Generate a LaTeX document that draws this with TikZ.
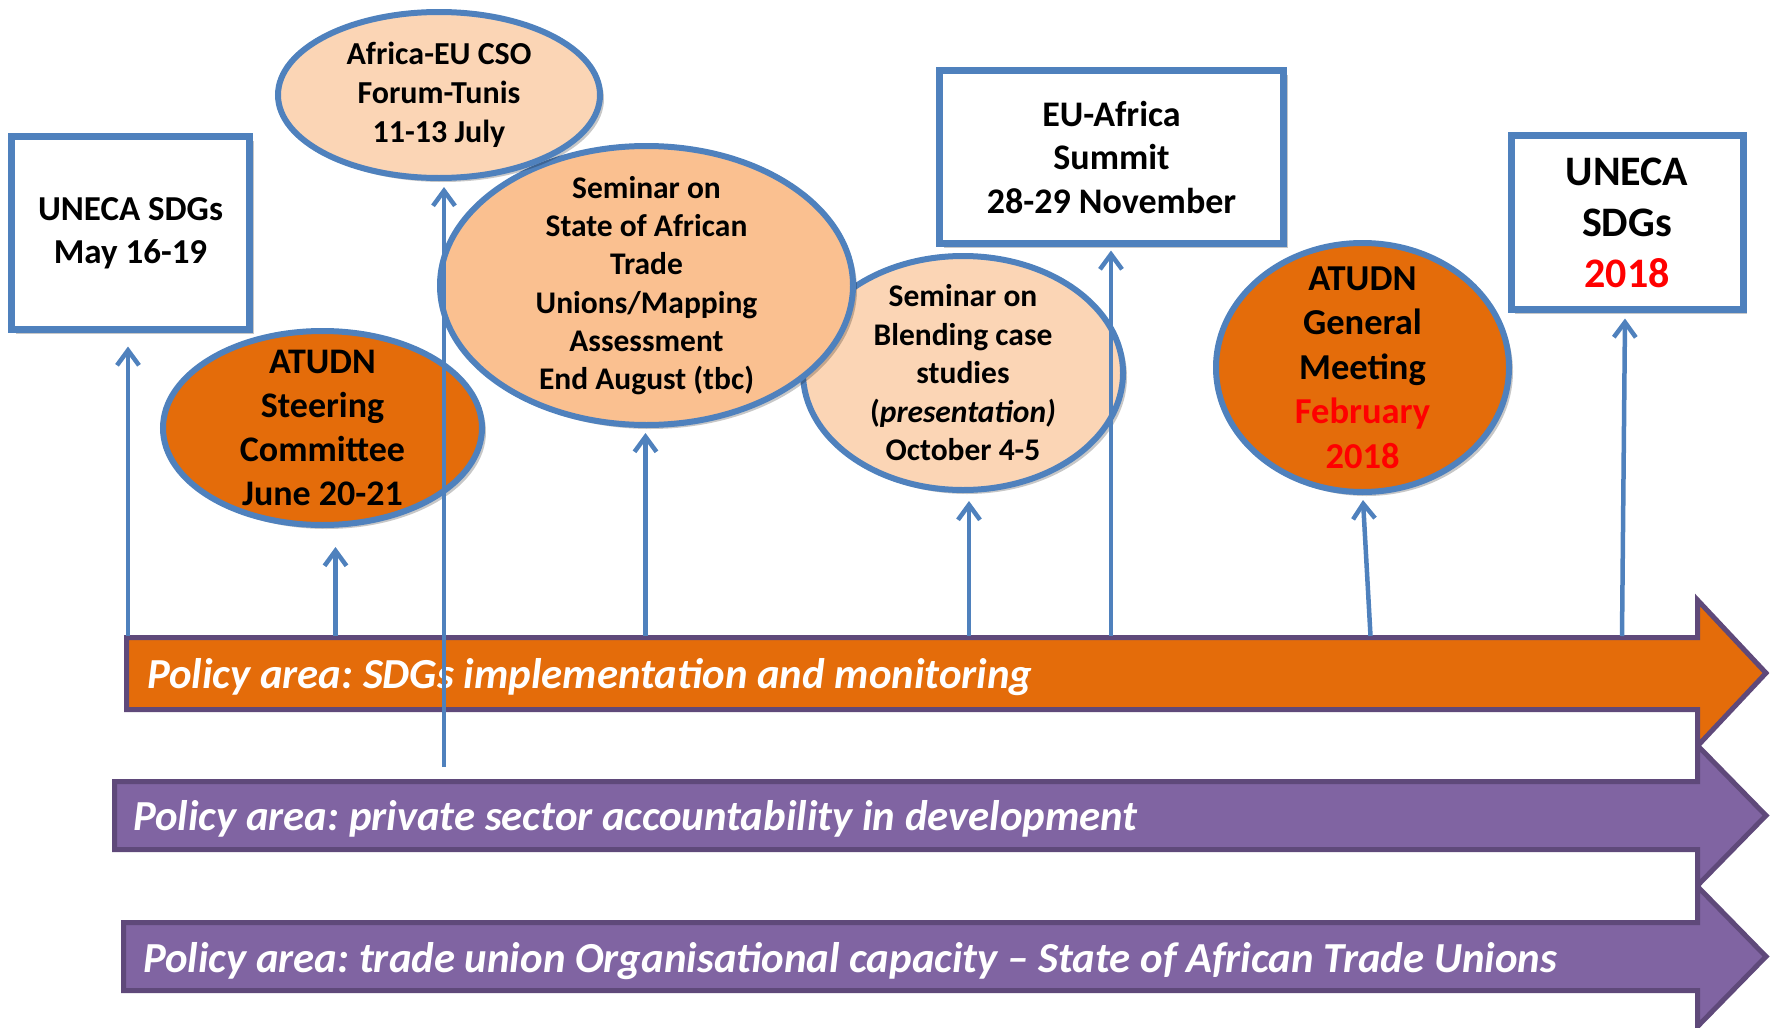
\documentclass[tikz,border=0pt]{standalone}
\usepackage{fontspec}
\setmainfont{Carlito}
\frenchspacing
\usetikzlibrary{arrows.meta,shapes.geometric,shadows}
\definecolor{lineblue}{HTML}{4F81BD}
\definecolor{darkorange}{HTML}{E46C0A}
\definecolor{peach}{HTML}{FBD5B5}
\definecolor{peachmid}{HTML}{FAC090}
\definecolor{barpurple}{HTML}{8064A2}
\definecolor{baredge}{HTML}{5F497A}
\definecolor{txtred}{HTML}{FF0000}
\begin{document}
\begin{tikzpicture}[x=1pt,y=-1pt,
  shd/.style={drop shadow={opacity=0.22, fill=black, shadow xshift=4pt, shadow yshift=-4pt}},
  evbox/.style={rectangle, draw=lineblue, line width=7pt, fill=white, inner sep=0pt, align=center, font=\bfseries, shd},
  evell/.style={ellipse, draw=lineblue, line width=6pt, inner sep=-60pt, align=center, font=\bfseries, shd},
  conn/.style={draw=lineblue, line width=4.5pt, -{Straight Barb[length=15pt,width=22pt]}},
  bar/.style={draw=baredge, line width=5pt, line join=miter},
  bartext/.style={anchor=base west, inner sep=0pt, text=white, font=\fontsize{42.8}{50}\selectfont\bfseries\itshape\frenchspacing}]
\useasboundingbox (0,0) rectangle (1770,1028);

% policy bars
\path[bar, fill=barpurple] (123.5,922.5) -- (1697.5,922.5) -- (1697.5,886.5) -- (1766,956.5) -- (1697.5,1026.5) -- (1697.5,990.5) -- (123.5,990.5) -- cycle;
\path[bar, fill=barpurple] (114.5,781.5) -- (1697.5,781.5) -- (1697.5,745.5) -- (1766,815.5) -- (1697.5,885.5) -- (1697.5,849.5) -- (114.5,849.5) -- cycle;
\path[bar, fill=darkorange] (126.5,637.5) -- (1697.5,637.5) -- (1697.5,600) -- (1766,673) -- (1697.5,746) -- (1697.5,709.5) -- (126.5,709.5) -- cycle;

\node[bartext] (t1) at (147,688) {Policy area: SDGs implementation and monitoring};
\node[bartext] (t2) at (133,830) {Policy area: private sector accountability in development};
\node[bartext] (t3) at (143,972) {Policy area: trade union Organisational capacity -- State of African Trade Unions};

% events
\node[evbox, minimum width=238pt, minimum height=193pt, font=\fontsize{35}{43}\selectfont\bfseries] (uneca1) at (130.5,233) {UNECA SDGs\\May 16-19};
\node[evell, fill=darkorange, minimum width=319pt, minimum height=194pt, font=\fontsize{36}{44.3}\selectfont\bfseries] (steer) at (322.5,428) {ATUDN\\Steering\\Committee\\June 20-21};
\node[evell, fill=peach, minimum width=320pt, minimum height=234pt, font=\fontsize{31.5}{38.5}\selectfont\bfseries] (blend) at (963,373) {Seminar on\\Blending case\\studies\\(\textit{presentation)}\\October 4-5};
\node[evell, fill=peachmid, minimum width=413pt, minimum height=279pt, font=\fontsize{31.5}{38.3}\selectfont\bfseries] (state) at (646.5,285.5) {Seminar on\\State of African\\Trade\\Unions/Mapping\\Assessment\\End August (tbc)};
\node[evell, fill=peach, minimum width=322pt, minimum height=166pt, font=\fontsize{32}{39}\selectfont\bfseries] (cso) at (439,95) {Africa-EU CSO\\Forum-Tunis\\11-13 July};
\node[evbox, minimum width=344pt, minimum height=173pt, font=\fontsize{36}{43.5}\selectfont\bfseries] (summit) at (1111.5,157) {EU-Africa\\Summit\\28-29 November};
\node[evell, fill=darkorange, minimum width=293pt, minimum height=249pt, font=\fontsize{36.5}{44.5}\selectfont\bfseries] (general) at (1362.5,367.5) {ATUDN\\General\\Meeting\\\textcolor{txtred}{February}\\\textcolor{txtred}{2018}};
\node[evbox, minimum width=232pt, minimum height=174pt, font=\fontsize{42}{51}\selectfont\bfseries] (uneca2) at (1627,222.5) {UNECA\\SDGs\\\textcolor{txtred}{2018}};

% connector feet
\coordinate (f1) at (128,636);
\coordinate (f2) at (335.5,636);
\coordinate (f3) at (444,767);
\coordinate (f4) at (645.5,636);
\coordinate (f5) at (969,636);
\coordinate (f6) at (1111,636);
\coordinate (f7) at (1370.5,636);
\coordinate (f8) at (1622,636);

\draw[conn] (f1) -- ([xshift=-2.5pt,yshift=-13.5pt]uneca1.south);
\draw[conn] (f2) -- ([xshift=13pt,yshift=-19pt]steer.south);
\draw[conn] (f3) -- ([xshift=5pt,yshift=-6pt]cso.south);
\draw[conn] (f4) -- ([xshift=-1pt,yshift=-5pt]state.south);
\draw[conn] (f5) -- ([xshift=6pt,yshift=-8pt]blend.south);
\draw[conn] (f6) -- ([xshift=-0.5pt,yshift=-3.5pt]summit.south);
\draw[conn] (f7) -- ([xshift=0.5pt,yshift=-5pt]general.south);
\draw[conn] (f8) -- ([xshift=-2pt,yshift=-5.5pt]uneca2.south);
\end{tikzpicture}
\end{document}
